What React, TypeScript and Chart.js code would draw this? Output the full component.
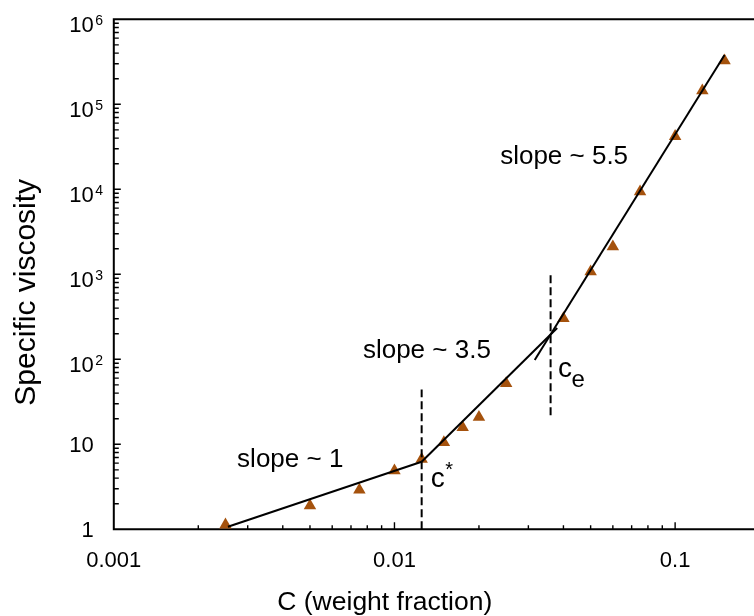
import React, { useEffect, useRef } from 'react';
import { Chart, registerables } from 'chart.js';

Chart.register(...registerables);

// ---- data ----
const concentration = [0.0025, 0.005, 0.0075, 0.01, 0.0125, 0.015, 0.0175, 0.02, 0.025, 0.04, 0.05, 0.06, 0.075, 0.1, 0.125, 0.15];
const viscosity = [1.13, 1.9, 2.9, 4.9, 6.7, 10.5, 15.8, 20.9, 52, 303, 1075, 2110, 9370, 42000, 145000, 326000];

const fitDiluteX = [0.00255, 0.0125];
const fitDiluteY = [1.07, 6.24];
const fitSemiX = [0.0125, 0.038];
const fitSemiY = [6.24, 234];
const fitEntangledX = [0.0316, 0.15];
const fitEntangledY = [98, 380000];

const cStarX = [0.0125, 0.0125];
const cStarY = [1, 44];
const cEX = [0.036, 0.036];
const cEY = [22, 980];

const xTickValues = [0.001, 0.01, 0.1];
const xTickLabels = ['0.001', '0.01', '0.1'];
const yTickValues = [1, 10, 100, 1000, 10000, 100000, 1000000];
const yTickBase = ['1', '10', '10', '10', '10', '10', '10'];
const yTickExp = ['', '', '2', '3', '4', '5', '6'];

const slopeLabels = ['slope ~ 1', 'slope ~ 3.5', 'slope ~ 5.5'];
const slopeLabelX = [0.00275, 0.00772, 0.0238];
const slopeLabelY = [5.4, 103.5, 19860];

const xTitle = 'C (weight fraction)';
const yTitle = 'Specific viscosity';

const FONT = "'Liberation Sans', Arial, sans-serif";
const BROWN = '#A5520D';

const zip = (xs: number[], ys: number[]) => xs.map((x, i) => ({ x, y: ys[i] }));

const mantissa = (v: number) => {
  if (v <= 0) return null;
  const e = Math.floor(Math.log10(v) + 1e-9);
  const m = v / Math.pow(10, e);
  const r = Math.round(m);
  if (Math.abs(m - r) > 1e-6 || r < 1 || r > 9) return null;
  return r;
};

const framePlugin = {
  id: 'frame',
  beforeDatasetsDraw(chart: any) {
    const { ctx, chartArea: a, scales } = chart;
    const x = scales.x;
    const y = scales.y;
    const W = chart.width;
    ctx.save();
    ctx.strokeStyle = '#000';
    ctx.lineWidth = 2;
    ctx.lineCap = 'square';
    ctx.beginPath();
    ctx.moveTo(a.left, a.top);
    ctx.lineTo(W + 2, a.top);
    ctx.moveTo(a.left, a.top);
    ctx.lineTo(a.left, a.bottom);
    ctx.lineTo(W + 2, a.bottom);
    ctx.stroke();

    ctx.lineWidth = 1.4;
    ctx.lineCap = 'butt';
    ctx.beginPath();
    for (const t of x.ticks) {
      const m = mantissa(t.value);
      if (m == null) continue;
      const px = x.getPixelForValue(t.value);
      if (px <= a.left + 1 || px > a.right) continue;
      const len = m === 1 ? 7 : 4;
      ctx.moveTo(px, a.bottom);
      ctx.lineTo(px, a.bottom - len);
    }
    for (const t of y.ticks) {
      const m = mantissa(t.value);
      if (m == null) continue;
      const py = y.getPixelForValue(t.value);
      if (py >= a.bottom - 1 || py < a.top + 1) continue;
      const len = m === 1 ? 7 : 5;
      ctx.moveTo(a.left, py);
      ctx.lineTo(a.left + len, py);
    }
    ctx.stroke();
    ctx.restore();
  },
  afterDatasetsDraw(chart: any) {
    const { ctx, chartArea: a, scales } = chart;
    const x = scales.x;
    const y = scales.y;
    ctx.save();
    ctx.fillStyle = '#000';

    // x tick labels
    ctx.font = `22px ${FONT}`;
    ctx.textAlign = 'center';
    ctx.textBaseline = 'alphabetic';
    xTickValues.forEach((v, i) => {
      ctx.fillText(xTickLabels[i], x.getPixelForValue(v), a.bottom + 38);
    });

    // y tick labels
    const labelRight = a.left - 20;
    yTickValues.forEach((v, i) => {
      const py = y.getPixelForValue(v);
      ctx.textAlign = 'right';
      ctx.font = `22px ${FONT}`;
      if (!yTickExp[i]) {
        ctx.fillText(yTickBase[i], labelRight, py + 8);
      } else {
        ctx.fillText(yTickBase[i], labelRight, py + 13);
        ctx.textAlign = 'left';
        ctx.font = `14px ${FONT}`;
        ctx.fillText(yTickExp[i], labelRight + 1.5, py + 6);
      }
    });

    // axis titles
    ctx.font = `26.5px ${FONT}`;
    ctx.textAlign = 'center';
    ctx.fillText(xTitle, a.left + 271, a.bottom + 81);
    ctx.save();
    ctx.translate(a.left - 78.4, a.top + 273);
    ctx.rotate(-Math.PI / 2);
    ctx.font = `30px ${FONT}`;
    ctx.fillText(yTitle, 0, 0);
    ctx.restore();

    // slope annotations
    ctx.textAlign = 'left';
    ctx.font = `26px ${FONT}`;
    slopeLabels.forEach((s, i) => {
      ctx.fillText(s, x.getPixelForValue(slopeLabelX[i]), y.getPixelForValue(slopeLabelY[i]));
    });

    // c* and c_e
    const csx = x.getPixelForValue(cStarX[0]);
    const csy = y.getPixelForValue(cStarY[0]);
    ctx.font = `28px ${FONT}`;
    ctx.fillText('c', csx + 9, csy - 42.6);
    ctx.font = `20px ${FONT}`;
    ctx.fillText('*', csx + 23.5, csy - 53);

    const cex = x.getPixelForValue(cEX[0]);
    const cey = y.getPixelForValue(cEY[0]);
    ctx.font = `28px ${FONT}`;
    ctx.fillText('c', cex + 7.5, cey - 38.4);
    ctx.font = `24px ${FONT}`;
    ctx.fillText('e', cex + 21, cey - 28.4);
    ctx.restore();
  },
};

export default function App() {
  const ref = useRef<HTMLCanvasElement | null>(null);

  useEffect(() => {
    const canvas = ref.current;
    if (!canvas) return;
    const lineDs = (xs: number[], ys: number[], dash: number[] = []) => ({
      data: zip(xs, ys),
      showLine: true,
      borderColor: '#000',
      borderWidth: 2,
      borderDash: dash,
      pointRadius: 0,
      fill: false,
      order: 0,
    });
    const chart = new Chart(canvas, {
      type: 'scatter',
      data: {
        datasets: [
          lineDs(fitDiluteX, fitDiluteY),
          lineDs(fitSemiX, fitSemiY),
          lineDs(fitEntangledX, fitEntangledY),
          lineDs(cStarX, cStarY, [8, 4]),
          lineDs(cEX, cEY, [8, 4]),
          {
            data: zip(concentration, viscosity),
            showLine: false,
            pointStyle: 'triangle',
            pointRadius: 7.2,
            backgroundColor: BROWN,
            borderColor: BROWN,
            borderWidth: 0,
            clip: false,
            order: 1,
          } as any,
        ],
      },
      options: {
        responsive: false,
        animation: false,
        devicePixelRatio: 1,
        layout: { autoPadding: false, padding: { top: 19.3, left: 0, right: 0, bottom: 0 } },
        plugins: {
          legend: { display: false },
          tooltip: { enabled: false },
        },
        scales: {
          x: {
            type: 'logarithmic',
            min: 0.001,
            max: 0.191,
            ticks: { display: false },
            grid: { display: false },
            border: { display: false },
            afterFit: (s: any) => {
              s.height = 86.7;
            },
          },
          y: {
            type: 'logarithmic',
            min: 1,
            max: 1000000,
            ticks: { display: false },
            grid: { display: false },
            border: { display: false },
            afterFit: (s: any) => {
              s.width = 113.8;
            },
          },
        },
      } as any,
      plugins: [framePlugin],
    });
    return () => chart.destroy();
  }, []);

  return (
    <div style={{ position: 'absolute', left: 0, top: 0, width: 754, height: 616, background: '#fff' }}>
      <canvas ref={ref} width={754} height={616} style={{ display: 'block' }} />
    </div>
  );
}
